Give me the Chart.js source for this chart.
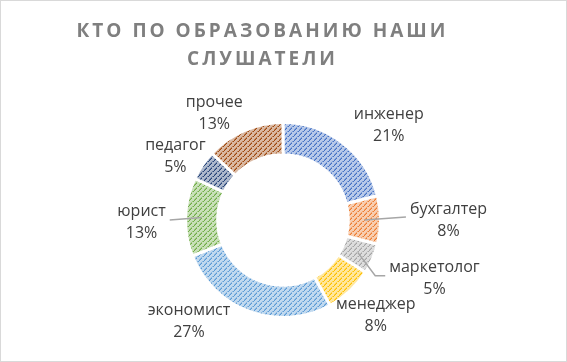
<!DOCTYPE html>
<html lang="ru">
<head>
<meta charset="UTF-8">
<title>Кто по образованию наши слушатели</title>
<script src="https://cdn.jsdelivr.net/npm/chart.js"></script>
<style>
  html, body { margin: 0; padding: 0; background: #fff; }
  canvas { display: block; }
</style>
</head>
<body>
<canvas id="chart" width="567" height="362"></canvas>
<script>
// data
const categories = ['инженер', 'бухгалтер', 'маркетолог', 'менеджер', 'экономист', 'юрист', 'педагог', 'прочее'];
const shares = [21, 8, 5, 8, 27, 13, 5, 13];
const percentLabels = ['21%', '8%', '5%', '8%', '27%', '13%', '5%', '13%'];
const titleLines = ['КТО ПО ОБРАЗОВАНИЮ НАШИ', 'СЛУШАТЕЛИ'];

// styling (Office palette)
const baseColors = ['#4472C4', '#ED7D31', '#A5A5A5', '#FFC000', '#5B9BD5', '#70AD47', '#264478', '#9E480E'];
// where each label sits relative to the outer edge of its arc
const labelShift = [[46, -18], [68, 0], [62, 20], [26, 24], [-61, 10], [-44, 6], [-27, -9], [-30, -17]];
const hasLeader = [false, true, true, false, false, true, false, false];

function mix(hex, t) {
  const n = parseInt(hex.slice(1), 16);
  const r = n >> 16, g = (n >> 8) & 255, b = n & 255;
  const m = v => Math.round(v + (255 - v) * t);
  return `rgb(${m(r)},${m(g)},${m(b)})`;
}

// dashed upward diagonal hatch, like the Excel fill
function hatch(hex) {
  const c = document.createElement('canvas');
  c.width = c.height = 10;
  const g = c.getContext('2d');
  g.fillStyle = mix(hex, 0.62);
  g.fillRect(0, 0, 10, 10);
  for (let x = 0; x < 10; x++) {
    for (let y = 0; y < 10; y++) {
      const d = (x + y) % 5;
      if (d === 4 && x % 5 !== 2) { g.fillStyle = hex; g.fillRect(x, y, 1, 1); }
      else if (d === 3 && x % 5 !== 3) { g.fillStyle = mix(hex, 0.3); g.fillRect(x, y, 1, 1); }
    }
  }
  return g.createPattern(c, 'repeat');
}

const frameAndTitle = {
  id: 'frameAndTitle',
  beforeDraw(chart) {
    const ctx = chart.ctx;
    ctx.save();
    ctx.fillStyle = '#fff';
    ctx.fillRect(0, 0, chart.width, chart.height);
    ctx.strokeStyle = '#d9d9d9';
    ctx.lineWidth = 1;
    ctx.strokeRect(0.5, 0.5, chart.width - 1, chart.height - 1);
    ctx.fillStyle = '#7f7f7f';
    ctx.font = 'bold 19px "Open Sans", "DejaVu Sans", sans-serif';
    ctx.letterSpacing = '3px';
    ctx.textAlign = 'left';
    ctx.textBaseline = 'middle';
    // Excel centres the title over the plot, a bit left of the canvas middle
    const cx = 261;
    titleLines.forEach((line, i) => {
      const w = ctx.measureText(line).width - 3;
      ctx.fillText(line, cx - w / 2, 32 + i * 28);
    });
    ctx.restore();
  }
};

const outsideLabels = {
  id: 'outsideLabels',
  afterDatasetsDraw(chart) {
    const ctx = chart.ctx;
    const arcs = chart.getDatasetMeta(0).data;
    ctx.save();
    ctx.font = '16px "Open Sans", "Liberation Sans", sans-serif';
    ctx.textAlign = 'center';
    ctx.textBaseline = 'middle';
    arcs.forEach((arc, i) => {
      const { x, y, startAngle, endAngle, outerRadius, innerRadius } = arc.getProps(['x', 'y', 'startAngle', 'endAngle', 'outerRadius', 'innerRadius'], true);
      const mid = (startAngle + endAngle) / 2;
      const ax = x + Math.cos(mid) * outerRadius;
      const ay = y + Math.sin(mid) * outerRadius;
      const lx = ax + labelShift[i][0];
      const ly = ay + labelShift[i][1];
      const name = categories[i];
      const w = Math.max(ctx.measureText(name).width, ctx.measureText(percentLabels[i]).width);
      if (hasLeader[i]) {
        const rm = (outerRadius + innerRadius) / 2;
        const sx = x + Math.cos(mid) * rm;
        const sy = y + Math.sin(mid) * rm;
        const right = lx > x;
        const ex = right ? lx - w / 2 - 4 : lx + w / 2 + 4;
        const ey = ly - 3;
        ctx.strokeStyle = '#a6a6a6';
        ctx.lineWidth = 1.5;
        ctx.beginPath();
        ctx.moveTo(sx, sy);
        if (Math.abs(ey - sy) > 10) {
          ctx.lineTo(right ? ex - 10 : ex + 10, ey);
        }
        ctx.lineTo(ex, ey);
        ctx.stroke();
      }
      ctx.fillStyle = '#404040';
      ctx.fillText(name, lx, ly - 11);
      ctx.fillText(percentLabels[i], lx, ly + 11);
    });
    ctx.restore();
  }
};

new Chart(document.getElementById('chart'), {
  type: 'doughnut',
  data: {
    labels: categories,
    datasets: [{
      data: shares,
      backgroundColor: baseColors.map(hatch),
      borderColor: '#ffffff',
      borderWidth: 3
    }]
  },
  options: {
    responsive: false,
    animation: false,
    cutout: '67%',
    layout: { padding: { left: 184, right: 185, top: 121, bottom: 43 } },
    plugins: {
      legend: { display: false },
      title: { display: false },
      tooltip: { enabled: false }
    }
  },
  plugins: [frameAndTitle, outsideLabels]
});
</script>
</body>
</html>
